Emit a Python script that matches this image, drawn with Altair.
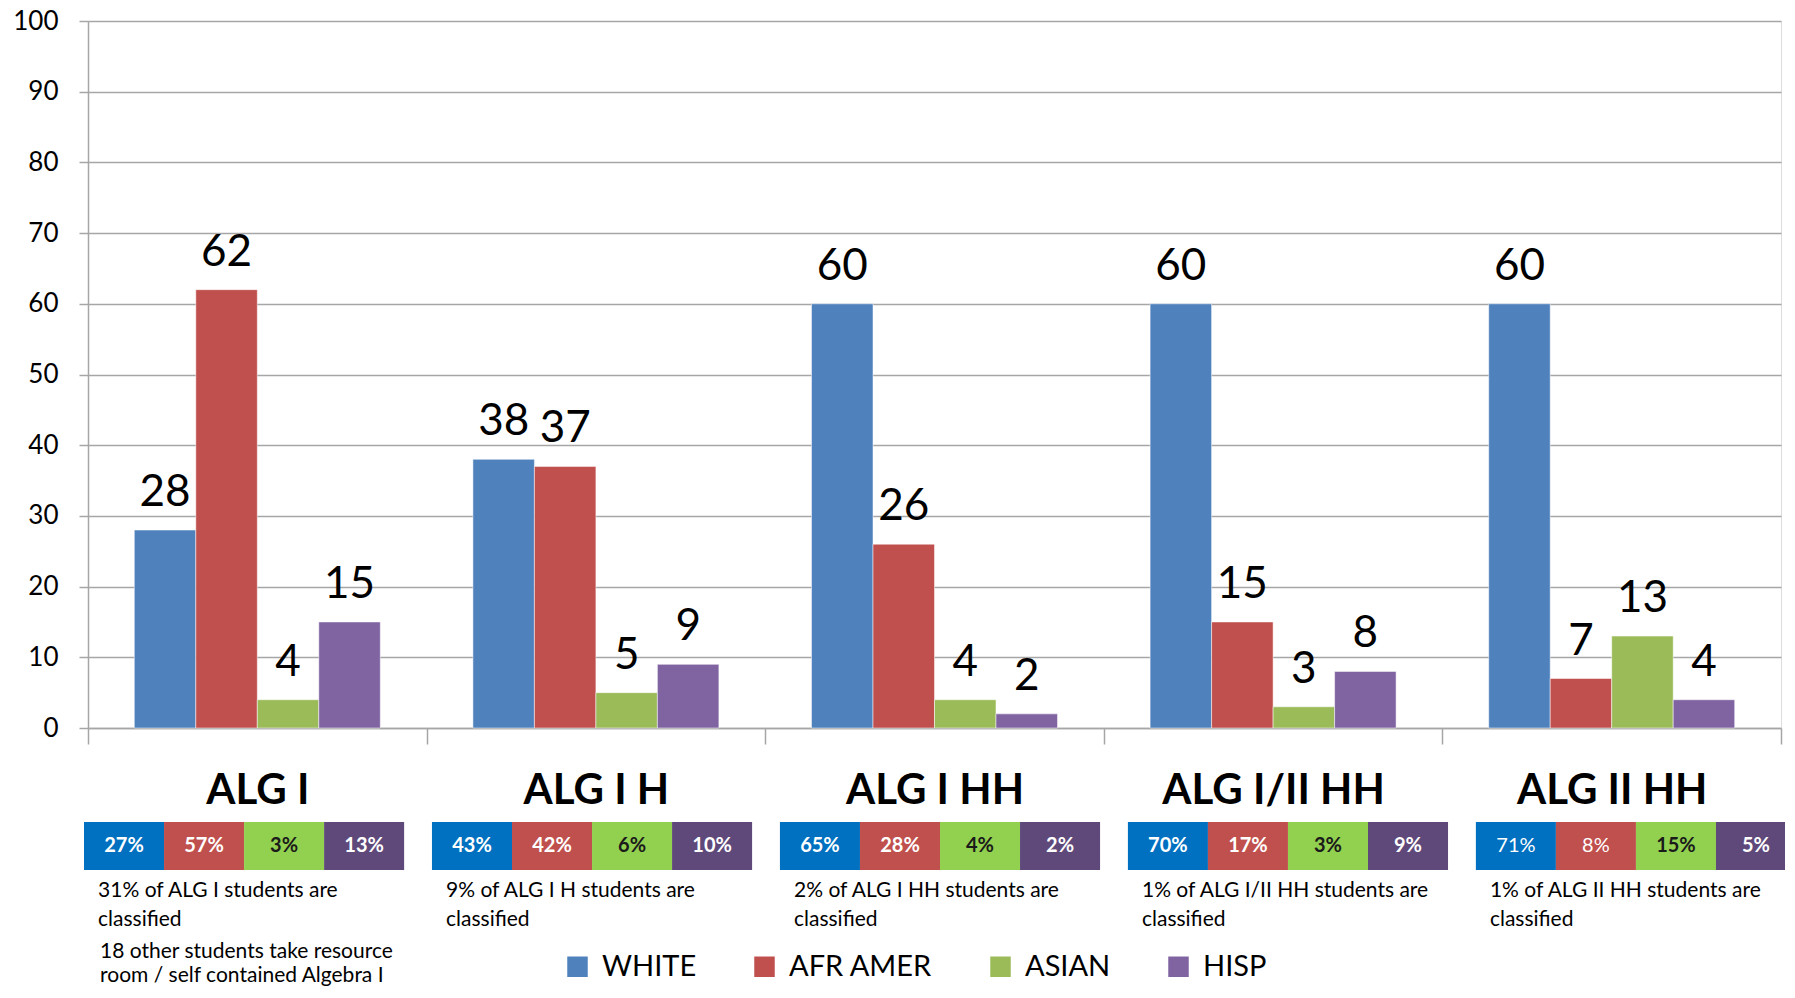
import altair as alt
import pandas as pd

categories = ["ALG I", "ALG I H", "ALG I HH", "ALG I/II HH", "ALG II HH"]
races = ["WHITE", "AFR AMER", "ASIAN", "HISP"]

white = [28, 38, 60, 60, 60]
afr_amer = [62, 37, 26, 15, 7]
asian = [4, 5, 4, 3, 13]
hisp = [15, 9, 2, 8, 4]

pct_white = [27, 43, 65, 70, 71]
pct_afr_amer = [57, 42, 28, 17, 8]
pct_asian = [3, 6, 4, 3, 15]
pct_hisp = [13, 10, 2, 9, 5]
# percent boxes printed in regular (not bold) weight in the source
regular_weight_boxes = [("ALG II HH", "WHITE"), ("ALG II HH", "AFR AMER")]

classified_pct = [31, 9, 2, 1, 1]
extra_note = "18 other students take resource\nroom / self contained  Algebra I"

bar_colors = ["#4F81BD", "#C0504D", "#9BBB59", "#8064A2"]
box_colors = ["#0070C0", "#C0504D", "#92D050", "#5F497A"]
grid_gray = "#A6A6A6"
FONT = "Lato"

counts = [white, afr_amer, asian, hisp]
pcts = [pct_white, pct_afr_amer, pct_asian, pct_hisp]

rows = []
for ci, cat in enumerate(categories):
    for ri, race in enumerate(races):
        rows.append({
            "category": cat,
            "race": race,
            "value": counts[ri][ci],
            "pct": pcts[ri][ci],
            "pct_label": f"{pcts[ri][ci]}%",
            "regular": (cat, race) in regular_weight_boxes,
        })
df = pd.DataFrame(rows)

notes_df = pd.DataFrame({
    "category": categories,
    "note": [f"{p}% of {c} students are\nclassified" for p, c in zip(classified_pct, categories)],
})
extra_df = pd.DataFrame({"category": [categories[0]], "note": [extra_note]})

cat_scale = alt.Scale(domain=categories, paddingInner=0, paddingOuter=0)
x_bars = alt.X(
    "category:N",
    sort=categories,
    scale=cat_scale,
    axis=alt.Axis(
        title=None, labelAngle=0, labelFontSize=42, labelFontWeight="bold",
        labelFont=FONT, labelColor="#000000", labelPadding=26, labelLimit=0,
        tickBand="extent", tickSize=16, tickColor=grid_gray, tickWidth=1.5,
        domainColor=grid_gray, domainWidth=1.5, grid=False,
    ),
)
xoff_bars = alt.XOffset("race:N", sort=races,
                        scale=alt.Scale(domain=races, paddingInner=0, paddingOuter=0.753))
y_bars = alt.Y(
    "value:Q",
    scale=alt.Scale(domain=[0, 100], nice=False),
    axis=alt.Axis(
        title=None, values=list(range(0, 101, 10)), labelFontSize=26, labelFont=FONT,
        labelColor="#000000", labelPadding=21, tickSize=9, tickColor=grid_gray,
        tickWidth=1.5, domainColor=grid_gray, domainWidth=1.5,
        grid=True, gridColor=grid_gray, gridWidth=1.5,
    ),
)

bars = alt.Chart(df).mark_bar(stroke="white", strokeWidth=0.5).encode(
    x=x_bars,
    xOffset=xoff_bars,
    y=y_bars,
    color=alt.Color(
        "race:N", sort=races,
        scale=alt.Scale(domain=races, range=bar_colors),
        legend=alt.Legend(
            title=None, orient="none", legendX=475, legendY=931, direction="horizontal",
            symbolType="square", symbolSize=420, symbolStrokeWidth=0,
            labelFontSize=29, labelFont=FONT, labelColor="#000000",
            labelOffset=10, columnPadding=53,
        ),
    ),
)

bar_labels = alt.Chart(df).mark_text(
    fontSize=44, font=FONT, color="#000000", baseline="alphabetic", dy=-24
).encode(
    x=alt.X("category:N", sort=categories, scale=cat_scale),
    xOffset=xoff_bars,
    y=alt.Y("value:Q", scale=alt.Scale(domain=[0, 100], nice=False)),
    text=alt.Text("value:Q"),
)

main = alt.layer(bars, bar_labels)

box_x_scale = alt.Scale(domain=categories, range=[-4, 1708], paddingInner=0.08, paddingOuter=0)
x_box = alt.X("category:N", sort=categories, scale=box_x_scale, axis=None)
xoff_box = alt.XOffset("race:N", sort=races,
                       scale=alt.Scale(domain=races, paddingInner=0, paddingOuter=0))

boxes = alt.Chart(df).mark_bar().encode(
    x=x_box,
    xOffset=xoff_box,
    y=alt.value(801),
    y2=alt.value(849),
    fill=alt.Fill("race:N", sort=races, scale=alt.Scale(domain=races, range=box_colors), legend=None),
)

def box_text_layer(weight, regular_flag):
    return alt.Chart(df).transform_filter(
        alt.datum.regular == regular_flag
    ).mark_text(
        fontSize=20, font=FONT, fontWeight=weight, baseline="middle", align="center"
    ).encode(
        x=x_box,
        xOffset=xoff_box,
        y=alt.value(825),
        text="pct_label:N",
        fill=alt.condition(alt.datum.race == "ASIAN", alt.value("#1A1A1A"), alt.value("#FFFFFF")),
    )

box_text_bold = box_text_layer("bold", False)
box_text_regular = box_text_layer("normal", True)

notes = alt.Chart(notes_df).mark_text(
    fontSize=21, font=FONT, color="#000000", align="left", baseline="alphabetic",
    lineBreak="\n", lineHeight=29, dx=-146
).encode(
    x=x_box,
    y=alt.value(876),
    text="note:N",
)

extra = alt.Chart(extra_df).mark_text(
    fontSize=21, font=FONT, color="#000000", align="left", baseline="alphabetic",
    lineBreak="\n", lineHeight=24, dx=-144
).encode(
    x=x_box,
    y=alt.value(937),
    text="note:N",
)

annot = alt.layer(boxes, box_text_bold, box_text_regular, notes, extra)

chart = alt.layer(main, annot).resolve_scale(
    x="independent", xOffset="independent"
).properties(
    width=1693,
    height=707,
    autosize=alt.AutoSizeParams(type="none"),
    padding={"left": 80, "top": 13, "right": 4, "bottom": 261},
).configure_view(stroke=None).configure(font=FONT, background="white")

chart.save("out.html", embed_options={"renderer": "svg", "actions": False})
